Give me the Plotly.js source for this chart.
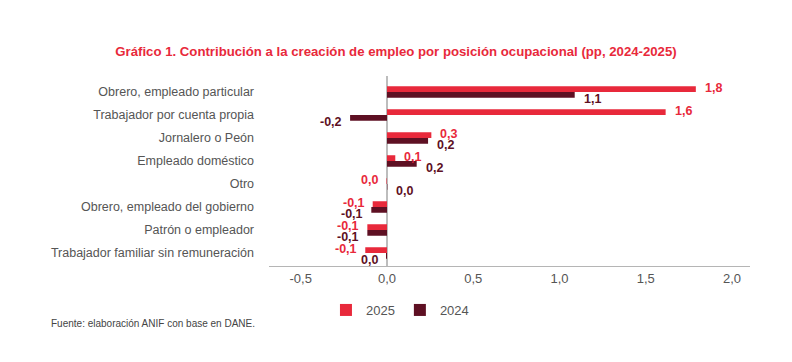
<!DOCTYPE html>
<html>
<head>
<meta charset="utf-8">
<script src="https://cdn.plot.ly/plotly-3.0.1.min.js"></script>
<style>html,body{margin:0;padding:0;background:#fff;}#chart{width:792px;height:362px;}</style>
</head>
<body>
<div id="chart"></div>
<script>
var categories = [
  "Obrero, empleado particular",
  "Trabajador por cuenta propia",
  "Jornalero o Peón",
  "Empleado doméstico",
  "Otro",
  "Obrero, empleado del gobierno",
  "Patrón o empleador",
  "Trabajador familiar sin remuneración"
];
var values2025 = [1.79, 1.615, 0.257, 0.048, -0.003, -0.083, -0.114, -0.126];
var values2024 = [1.088, -0.214, 0.238, 0.172, 0.002, -0.091, -0.114, -0.006];
var labels2025 = ["1,8", "1,6", "0,3", "0,1", "0,0", "-0,1", "-0,1", "-0,1"];
var labels2024 = ["1,1", "-0,2", "0,2", "0,2", "0,0", "-0,1", "-0,1", "0,0"];
var tickVals = [-0.5, 0, 0.5, 1, 1.5, 2];
var tickText = ["-0,5", "0,0", "0,5", "1,0", "1,5", "2,0"];

var RED = "#E8293B", DARK = "#5E1023";

var traces = [
  {type: "bar", orientation: "h", name: "2025", y: categories, x: values2025,
   marker: {color: RED}, hoverinfo: "x+y"},
  {type: "bar", orientation: "h", name: "2024", y: categories, x: values2024,
   marker: {color: DARK}, hoverinfo: "x+y"}
];

function valueLabels(vals, labels, color, yshift) {
  return vals.map(function (v, i) {
    var pos = v > 0;
    return {x: v, y: categories[i], xref: "x", yref: "y", text: "<b>" + labels[i] + "</b>",
            showarrow: false, xanchor: pos ? "left" : "right", yanchor: "middle",
            xshift: pos ? 7 : -6, yshift: yshift,
            font: {family: "Liberation Sans, Arial, sans-serif", size: 12.5, color: color}};
  });
}

var annotations = valueLabels(values2025, labels2025, RED, 4)
  .concat(valueLabels(values2024, labels2024, DARK, -7));
annotations.push({text: "Fuente: elaboración ANIF con base en DANE.", xref: "paper", yref: "paper",
                  x: (49 - 269)/481, y: -(323 - 266)/190, xanchor: "left", yanchor: "middle",
                  showarrow: false, font: {size: 10, color: "#444"}});

var layout = {
  width: 792, height: 362,
  margin: {l: 269, r: 42, t: 76, b: 96},
  paper_bgcolor: "#fff", plot_bgcolor: "#fff",
  font: {family: "Liberation Sans, Arial, sans-serif", color: "#555", size: 12},
  separators: ",.",
  barmode: "group", bargap: 0.5, bargroupgap: 0,
  title: {text: "<b>Gráfico 1. Contribución a la creación de empleo por posición ocupacional (pp, 2024-2025)</b>",
          x: 0.5, xref: "container", xanchor: "center", y: 1 - 51/362, yref: "container", yanchor: "middle",
          font: {family: "Liberation Sans, sans-serif", size: 13.2, color: RED}},
  xaxis: {range: [-0.684, 2.104], tickvals: tickVals, ticktext: tickText, showgrid: false,
          zeroline: true, zerolinecolor: "#bdbdbd", zerolinewidth: 1.5,
          showline: true, linecolor: "#b5b5b5", linewidth: 1, ticks: "",
          tickfont: {size: 13, color: "#555"}, fixedrange: true},
  yaxis: {type: "category", autorange: "reversed", showgrid: false, zeroline: false, showline: false,
          ticks: "", ticklabelstandoff: 14, tickfont: {size: 12.5, color: "#555"}, fixedrange: true},
  legend: {orientation: "h", xref: "container", yref: "container", x: 0.505, xanchor: "center",
           y: 1 - 310/362, yanchor: "middle", font: {size: 13, color: "#555"}, traceorder: "normal",
           itemwidth: 30},
  showlegend: true,
  annotations: annotations
};

Plotly.newPlot("chart", traces, layout, {displayModeBar: false, staticPlot: true});
</script>
</body>
</html>
